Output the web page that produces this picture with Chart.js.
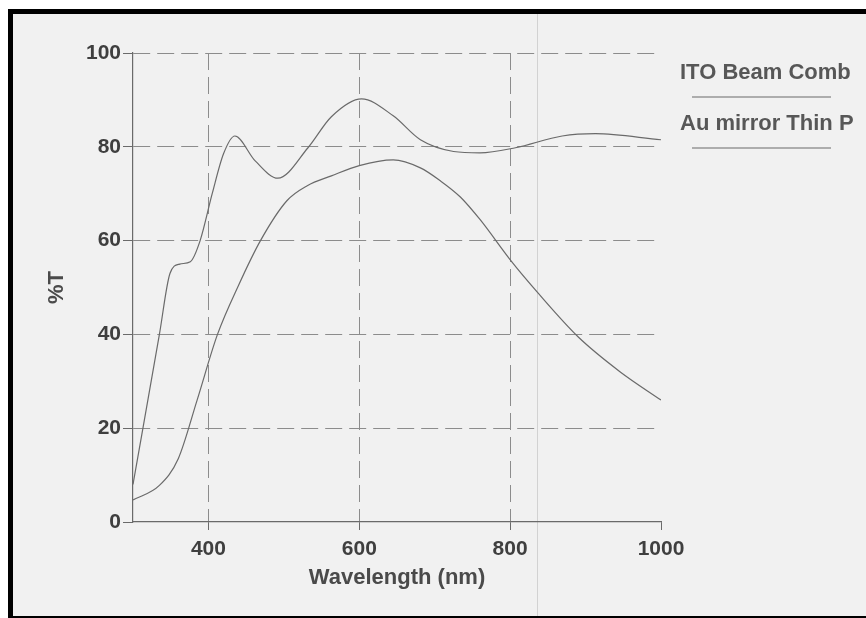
<!DOCTYPE html>
<html>
<head>
<meta charset="utf-8">
<script src="https://cdn.jsdelivr.net/npm/chart.js@4.4.1/dist/chart.umd.min.js"></script>
<style>
  html, body { margin: 0; padding: 0; background: #fff; }
  #wrap { position: relative; width: 866px; height: 618px; overflow: hidden; }
  #page {
    position: absolute; left: 8px; top: 9px; right: -10px; bottom: 0;
    background: #f1f1f1;
    border-top: 5px solid #000; border-left: 5px solid #000; border-bottom: 2px solid #000;
  }
  #fold { position: absolute; left: 537px; top: 14px; width: 1px; height: 602px; background: #d2d2d2; }
  #chart { position: absolute; left: 0; top: 0; }
</style>
</head>
<body>
<div id="wrap">
  <div id="page"></div>
  <div id="fold"></div>
  <canvas id="chart" width="866" height="618"></canvas>
</div>
<script>
// upper curve
const itoLabel = "ITO Beam Comb"
const itoWavelength = [300, 335, 349, 362, 376, 389, 405, 420, 435, 462, 492, 532, 563, 603, 645, 681, 725, 760, 807, 869, 913, 1000]
const itoT = [8, 40, 53, 55, 55.5, 60, 70, 78.5, 82.3, 77, 73.3, 79.8, 86.4, 90.2, 86.6, 81.5, 79, 78.7, 79.8, 82.3, 82.8, 81.5]

// lower curve
const auLabel = "Au mirror Thin P"
const auWavelength = [300, 335, 360, 385, 412, 440, 469, 504, 531, 563, 600, 645, 681, 707, 734, 760, 802, 836, 890, 946, 1000]
const auT = [4.7, 7.8, 13.5, 26, 40, 50.5, 60, 68.5, 71.7, 73.8, 76, 77.2, 75.5, 72.8, 69.3, 64.5, 55.5, 49, 39.5, 32, 26]

const xTicks = [400, 600, 800, 1000]
const yTicks = [0, 20, 40, 60, 80, 100]

const lineColor = "#6a6a6a"
const gridColor = "#8c8c8c"
const textColor = "#3f3f3f"
const fontFamily = "'Liberation Sans', Arial, sans-serif"

const toPoints = (xs, ys) => xs.map((x, i) => ({ x, y: ys[i] }))

// legend: text with a line sample underneath, right of the plot
const sideLegend = {
  id: "sideLegend",
  afterDraw(chart) {
    const ctx = chart.ctx
    ctx.save()
    ctx.font = "bold 22px " + fontFamily
    ctx.textBaseline = "alphabetic"
    ctx.textAlign = "left"
    chart.data.datasets.forEach((ds, i) => {
      const y = 79 + i * 51
      ctx.fillStyle = "#575757"
      ctx.fillText(ds.label, 680, y)
      ctx.strokeStyle = ds.borderColor
      ctx.lineWidth = 1.2
      ctx.beginPath()
      ctx.moveTo(692, y + 18)
      ctx.lineTo(831, y + 18)
      ctx.stroke()
    })
    ctx.restore()
  },
}

new Chart(document.getElementById("chart").getContext("2d"), {
  type: "line",
  data: {
    datasets: [
      {
        label: itoLabel,
        data: toPoints(itoWavelength, itoT),
        borderColor: lineColor,
        borderWidth: 1.2,
        pointRadius: 0,
        cubicInterpolationMode: "monotone",
        fill: false,
      },
      {
        label: auLabel,
        data: toPoints(auWavelength, auT),
        borderColor: lineColor,
        borderWidth: 1.2,
        pointRadius: 0,
        cubicInterpolationMode: "monotone",
        fill: false,
      },
    ],
  },
  options: {
    responsive: false,
    animation: false,
    devicePixelRatio: 1,
    layout: { padding: { left: 0, top: 53, right: 205, bottom: 0 } },
    plugins: { legend: { display: false }, tooltip: { enabled: false } },
    scales: {
      x: {
        type: "linear",
        min: 300,
        max: 1000,
        afterBuildTicks: (scale) => {
          scale.ticks = xTicks.map((v) => ({ value: v }))
        },
        afterFit: (scale) => {
          scale.height = 96
        },
        grid: {
          color: (c) => (c.tick && c.tick.value === 1000 ? "rgba(0,0,0,0)" : gridColor),
          tickColor: lineColor,
          tickLength: 8,
          lineWidth: 1,
        },
        border: { color: lineColor, width: 1.2, dash: [17, 7] },
        ticks: {
          color: textColor,
          padding: 7,
          maxRotation: 0,
          callback: (v) => String(v),
          font: { family: fontFamily, size: 21, weight: "bold" },
        },
        title: {
          display: true,
          text: "Wavelength (nm)",
          color: "#4a4a4a",
          font: { family: fontFamily, size: 22, weight: "bold" },
          padding: { top: 0, bottom: 27 },
        },
      },
      y: {
        min: 0,
        max: 100,
        afterBuildTicks: (scale) => {
          scale.ticks = yTicks.map((v) => ({ value: v }))
        },
        afterFit: (scale) => {
          scale.width = 133
        },
        grid: {
          color: (c) => (c.tick && c.tick.value === 0 ? "rgba(0,0,0,0)" : gridColor),
          tickColor: lineColor,
          tickLength: 10,
          lineWidth: 1,
        },
        border: { color: lineColor, width: 1.2, dash: [17, 7] },
        ticks: {
          color: textColor,
          padding: 2,
          callback: (v) => String(v),
          font: { family: fontFamily, size: 21, weight: "bold" },
        },
        title: {
          display: true,
          text: "%T",
          color: "#4a4a4a",
          font: { family: fontFamily, size: 22, weight: "bold" },
          padding: { top: 44, bottom: 0 },
        },
      },
    },
  },
  plugins: [sideLegend],
})
</script>
</body>
</html>
